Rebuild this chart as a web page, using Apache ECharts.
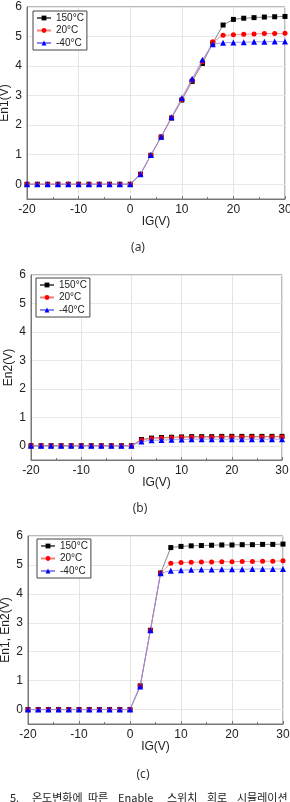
<!DOCTYPE html>
<html>
<head>
<meta charset="utf-8">
<script src="https://cdn.jsdelivr.net/npm/echarts@6/dist/echarts.min.js"></script>
<style>
  html, body { margin: 0; padding: 0; background: #fff; }
  #main { width: 290px; height: 802px; }
</style>
</head>
<body>
<div id="main"></div>
<script>
// IG(V) 입력 전압: -20 ~ 30 V, 2 V 간격
var igVolt = [-20, -18, -16, -14, -12, -10, -8, -6, -4, -2, 0, 2, 4, 6, 8, 10, 12, 14, 16, 18, 20, 22, 24, 26, 28, 30];
var tempNames = ['150°C', '20°C', '-40°C'];

// (a) En1(V)
var en1_150 = [0, 0, 0, 0, 0, 0, 0, 0, 0, 0, 0, 0.34, 0.98, 1.6, 2.24, 2.85, 3.48, 4.09, 4.78, 5.39, 5.58, 5.62, 5.64, 5.66, 5.67, 5.68];
var en1_20  = [0, 0, 0, 0, 0, 0, 0, 0, 0, 0, 0, 0.34, 0.98, 1.6, 2.25, 2.87, 3.52, 4.15, 4.82, 5.04, 5.06, 5.08, 5.09, 5.10, 5.10, 5.11];
var en1_m40 = [0, 0, 0, 0, 0, 0, 0, 0, 0, 0, 0, 0.34, 0.99, 1.61, 2.27, 2.92, 3.57, 4.21, 4.74, 4.79, 4.80, 4.81, 4.82, 4.82, 4.83, 4.83];

// (b) En2(V)
var en2_150 = [0, 0, 0, 0, 0, 0, 0, 0, 0, 0, 0, 0.22, 0.27, 0.29, 0.30, 0.31, 0.32, 0.32, 0.32, 0.33, 0.33, 0.33, 0.33, 0.33, 0.33, 0.33];
var en2_20  = [0, 0, 0, 0, 0, 0, 0, 0, 0, 0, 0, 0.20, 0.25, 0.27, 0.28, 0.29, 0.30, 0.30, 0.30, 0.31, 0.31, 0.31, 0.31, 0.31, 0.31, 0.31];
var en2_m40 = [0, 0, 0, 0, 0, 0, 0, 0, 0, 0, 0, 0.15, 0.19, 0.20, 0.21, 0.22, 0.23, 0.23, 0.23, 0.23, 0.23, 0.23, 0.23, 0.23, 0.23, 0.23];

// (c) En1, En2(V)
var enc_150 = [0, 0, 0, 0, 0, 0, 0, 0, 0, 0, 0, 0.82, 2.74, 4.72, 5.60, 5.64, 5.66, 5.67, 5.68, 5.69, 5.69, 5.70, 5.70, 5.71, 5.71, 5.72];
var enc_20  = [0, 0, 0, 0, 0, 0, 0, 0, 0, 0, 0, 0.81, 2.74, 4.72, 5.06, 5.08, 5.09, 5.10, 5.10, 5.11, 5.11, 5.12, 5.12, 5.13, 5.13, 5.14];
var enc_m40 = [0, 0, 0, 0, 0, 0, 0, 0, 0, 0, 0, 0.80, 2.74, 4.71, 4.80, 4.82, 4.83, 4.84, 4.84, 4.85, 4.85, 4.85, 4.86, 4.86, 4.86, 4.86];

var yNames = ['En1(V)', 'En2(V)', 'En1, En2(V)'];
var captions = ['(a)', '(b)', '(c)'];

var myChart = echarts.init(document.getElementById('main'), null, { renderer: 'canvas' });

var FONT = '"Liberation Sans", Arial, sans-serif';

// 각 그래프의 위치 (px)
var grids = [
    { left: 27, right: 5, top: 7, height: 192 },
    { left: 31, right: 8, top: 275, height: 185 },
    { left: 28, right: 7, top: 536, height: 188 }
];
grids.forEach(function (gr) {
    gr.show = true; gr.borderColor = '#777'; gr.borderWidth = 1;
    gr.containLabel = false; gr.outerBoundsMode = 'none';
});
var legendPos = [{ left: 33, top: 11 }, { left: 36, top: 278 }, { left: 37, top: 539 }];
var captionPos = [[138, 248], [140, 509], [143, 775]];

function pairs(ys) {
    return igVolt.map(function (x, i) { return [x, ys[i]]; });
}

var seriesStyle = [
    { color: '#000', line: '#666', symbol: 'rect', size: 5 },
    { color: '#f00', line: '#f28080', symbol: 'circle', size: 5 },
    { color: '#00f', line: '#8c8cf0', symbol: 'triangle', size: 6 }
];
var allData = [[en1_150, en1_20, en1_m40], [en2_150, en2_20, en2_m40], [enc_150, enc_20, enc_m40]];

var xAxes = [], yAxes = [], series = [], legends = [], graphics = [];
for (var g = 0; g < 3; g++) {
    xAxes.push({
        gridIndex: g, type: 'value', min: -20, max: 30, interval: 10,
        name: 'IG(V)', nameLocation: 'middle', nameGap: 17, nameMoveOverlap: false,
        nameTextStyle: { fontSize: 12, color: '#222', fontFamily: FONT },
        axisLine: { show: true, onZero: false, lineStyle: { color: '#777' } },
        axisTick: { show: true, inside: true, length: 3, lineStyle: { color: '#777' } },
        minorTick: { show: true, splitNumber: 2, length: 2, lineStyle: { color: '#777' } },
        axisLabel: { fontSize: 12, color: '#222', margin: 5, fontFamily: FONT },
        splitLine: { show: true, lineStyle: { color: '#e4e4e4', width: 1 } }
    });
    yAxes.push({
        gridIndex: g, type: 'value', min: -0.5, max: 6, splitNumber: 6,
        name: yNames[g], nameLocation: 'middle', nameGap: 16, nameMoveOverlap: false,
        nameTextStyle: { fontSize: 12, color: '#222', fontFamily: FONT },
        axisLine: { show: true, onZero: false, lineStyle: { color: '#777' } },
        axisTick: { show: false },
        axisLabel: {
            fontSize: 12, color: '#222', margin: 5, fontFamily: FONT,
            formatter: function (v) { return Number.isInteger(v) ? String(v) : ''; }
        },
        splitLine: { show: true, lineStyle: { color: '#e8e8e8', width: 1 } }
    });
    for (var s = 0; s < 3; s++) {
        var st = seriesStyle[s];
        series.push({
            name: tempNames[s], type: 'line',
            xAxisIndex: g, yAxisIndex: g,
            data: pairs(allData[g][s]),
            symbol: st.symbol, symbolSize: st.size,
            itemStyle: { color: st.color },
            lineStyle: { color: st.line, width: 0.8 },
            z: 3 + s,
            animation: false
        });
    }
    legends.push({
        left: legendPos[g].left, top: legendPos[g].top,
        orient: 'vertical', data: tempNames,
        backgroundColor: '#fff', borderColor: '#444', borderWidth: 1,
        padding: [2, 3, 2, 3],
        itemWidth: 14, itemHeight: 6, itemGap: 2.5,
        selectedMode: false,
        textStyle: { fontSize: 10, lineHeight: 10, color: '#222', fontFamily: FONT }
    });
    graphics.push({
        type: 'text', x: captionPos[g][0], y: captionPos[g][1],
        style: { text: captions[g], align: 'center', verticalAlign: 'middle',
                 font: '12px "Noto Sans", sans-serif', fill: '#333' }
    });
}

// 하단 캡션 (잘린 부분 포함)
var capWords = [['5.', 10], ['온도변화에', 32], ['따른', 88], ['Enable', 118], ['스위치', 167], ['회로', 207], ['시뮬레이션', 237]];
capWords.forEach(function (w) {
    graphics.push({
        type: 'text', x: w[1], y: 792,
        style: { text: w[0], verticalAlign: 'top',
                 font: '11px "Noto Sans CJK KR", "Noto Sans", sans-serif', fill: '#222' }
    });
});

var option = {
    animation: false,
    grid: grids,
    xAxis: xAxes,
    yAxis: yAxes,
    legend: legends,
    series: series,
    graphic: graphics
};

myChart.setOption(option);
window.addEventListener('resize', function () { myChart.resize(); });
</script>
</body>
</html>
